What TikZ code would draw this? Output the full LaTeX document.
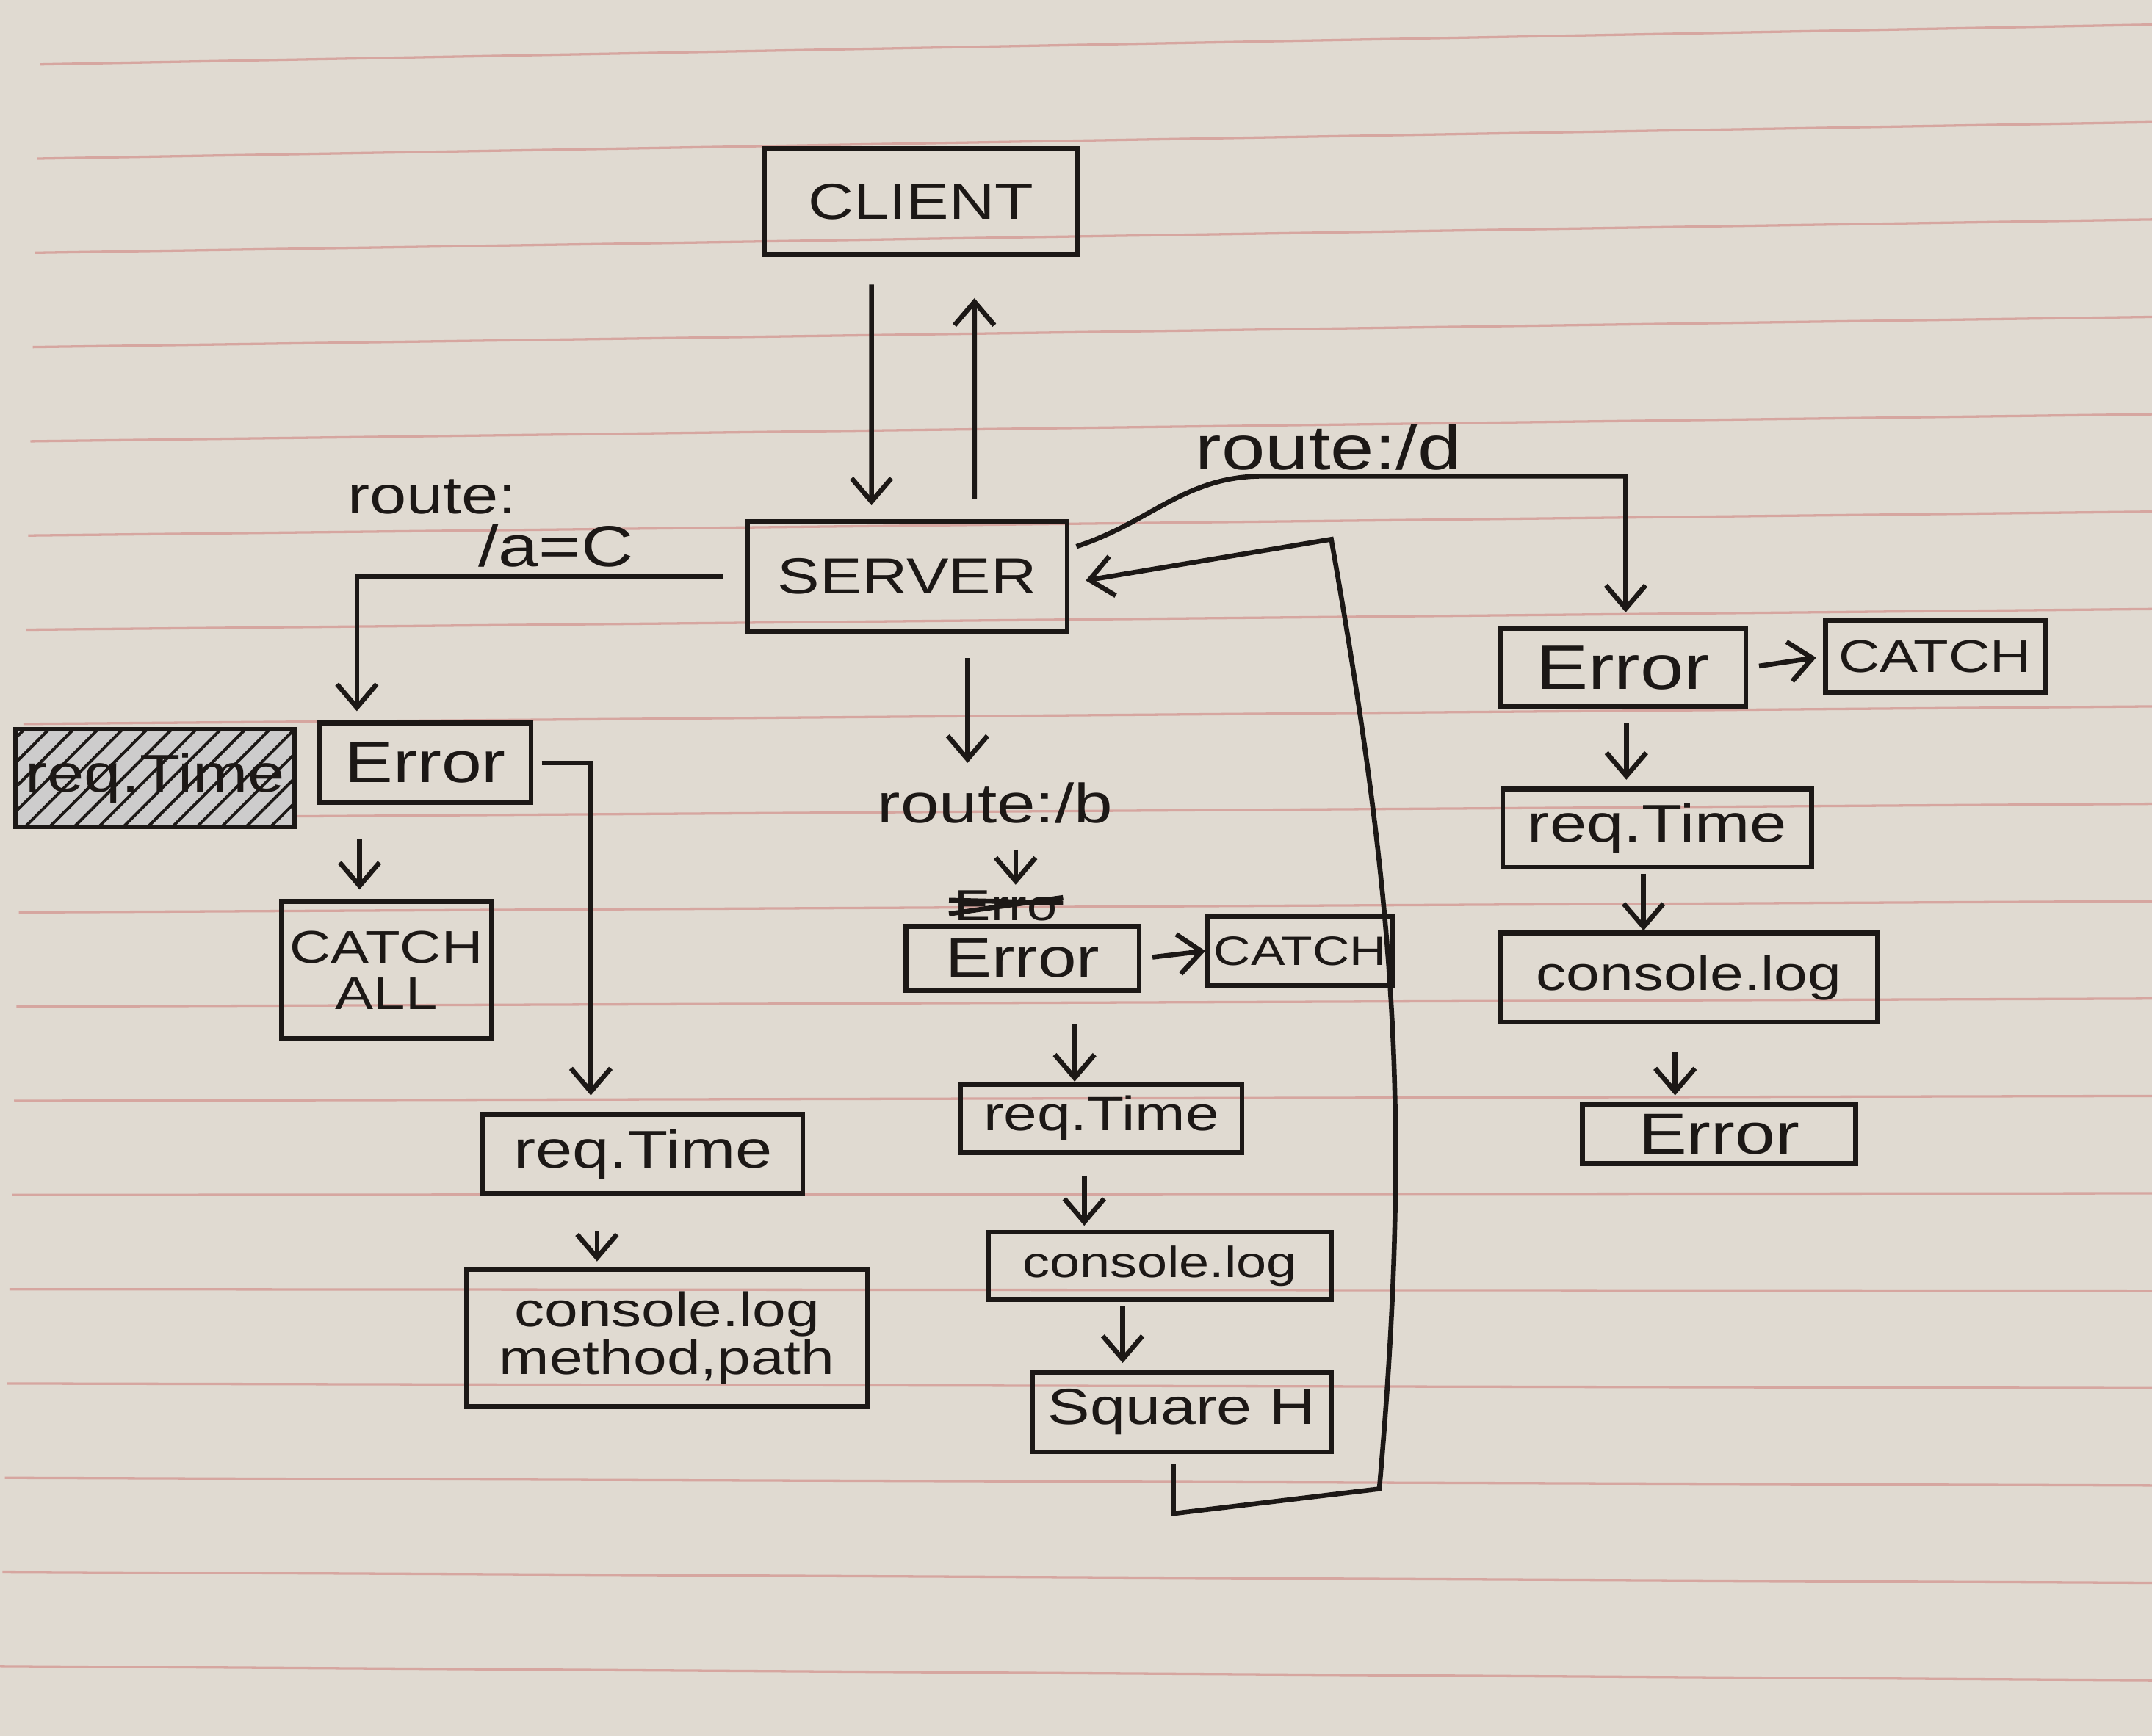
\documentclass[tikz,border=0pt]{standalone}
\usepackage{fontspec}
\setmainfont{Liberation Sans}[FakeStretch=1.25]
\usepackage{tikz}
\usetikzlibrary{arrows.meta, positioning, patterns.meta, calc}
\definecolor{Ink}{RGB}{28,24,22}
\definecolor{Paper}{RGB}{224,218,209}
\definecolor{RulePink}{RGB}{214,166,160}
\newcommand{\fsz}[1]{\fontsize{#1}{#1}\selectfont}

\begin{document}
\begin{tikzpicture}[
  font=\fsz{11},
  box/.style={rectangle, draw=Ink, line width=1pt, inner sep=0pt,
              align=center, text=Ink},
  lbl/.style={text=Ink, inner sep=1pt},
  arrow/.style={-{Straight Barb[length=1.7mm, width=2.9mm]}, Ink, line width=1pt},
  link/.style={Ink, line width=1pt},
]

% Paper
\fill[Paper] (0,0) rectangle (15.68,-12.65);
\useasboundingbox (0,0) rectangle (15.68,-12.65);
\foreach \k in {0,...,17}
  \draw[RulePink, line width=0.5pt] ({0.29-0.017*\k},{-0.4695-0.6866*\k}) -- (15.68,{-0.18-0.7097*\k});

% Client and server
\node[box, minimum width=2.28cm, minimum height=0.77cm, font=\fsz{10.5}] (client) at (6.71,-1.47) {CLIENT};
\node[box, minimum width=2.33cm, minimum height=0.80cm, font=\fsz{10.5}] (server) at (6.61,-4.20) {SERVER};

\draw[arrow, shorten <=2mm, shorten >=1mm] ([xshift=-3.6mm]client.south) -- ([xshift=-2.6mm]server.north);
\draw[arrow, shorten <=1.5mm, shorten >=3mm] ([xshift=4.9mm]server.north) -- ([xshift=3.9mm]client.south);

% Route /a=C
\node[lbl, font=\fsz{11}] (routeA) at (3.15,-3.62) {route:};
\node[lbl, font=\fsz{12}] (routeAval) at (4.05,-3.98) {/a=C};
\node[box, minimum width=1.54cm, minimum height=0.58cm, font=\fsz{12}] (errA) at (3.10,-5.56) {Error};
\node[box, minimum width=2.03cm, minimum height=0.71cm, font=\fsz{11},
      preaction={fill=Ink!22},
      pattern={Lines[angle=45, distance=3.6pt, line width=0.6pt]}, pattern color=Ink]
      (reqX) at (1.13,-5.67) {req.Time};
\node[box, minimum width=1.53cm, minimum height=1.00cm, font=\fsz{9.5}] (catchAll) at (2.815,-7.07) {CATCH\\[0pt]ALL};
\node[box, minimum width=2.33cm, minimum height=0.58cm, font=\fsz{11}] (reqA) at (4.685,-8.41) {req.Time};
\node[box, minimum width=2.92cm, minimum height=1.00cm, font=\fsz{10}] (logA) at (4.86,-9.75) {console.log\\[0pt]method,path};

\draw[arrow, shorten <=1.6mm, shorten >=0.7mm] (server.west) -| ([xshift=-5mm]errA.north);
\draw[arrow, shorten <=2.5mm, shorten >=0.7mm] ([xshift=-4.8mm]errA.south) -- ([xshift=-4.8mm]errA.south |- catchAll.north);
\draw[arrow, shorten <=0.6mm, shorten >=1.2mm] (errA.east) -| ([xshift=-3.8mm]reqA.north);
\draw[arrow, shorten <=2.5mm, shorten >=0.4mm] ([xshift=-3.35mm]reqA.south) -- ([xshift=-3.35mm]reqA.south |- logA.north);

% Route /b
\node[lbl, font=\fsz{11.5}] (routeB) at (7.25,-5.85) {route:/b};
\node[lbl, font=\fsz{9}] (scrib) at (7.33,-6.60) {Erro};
\draw[link] ([yshift=0.4mm]scrib.west) -- ([yshift=0.2mm]scrib.east);
\draw[link] ([yshift=-0.6mm]scrib.west) -- ([yshift=0.6mm]scrib.east);
\node[box, minimum width=1.70cm, minimum height=0.47cm, font=\fsz{11.5}] (errB) at (7.45,-6.985) {Error};
\node[box, minimum width=1.35cm, minimum height=0.50cm, font=\fsz{8.5}] (catchB) at (9.475,-6.93) {CATCH};
\node[box, minimum width=2.05cm, minimum height=0.50cm, font=\fsz{10}] (reqB) at (8.025,-8.15) {req.Time};
\node[box, minimum width=2.50cm, minimum height=0.49cm, font=\fsz{9}] (logB) at (8.45,-9.225) {console.log};
\node[box, minimum width=2.18cm, minimum height=0.58cm, font=\fsz{10.5}] (sqB) at (8.61,-10.29) {Square H};

\draw[arrow, shorten <=1.8mm, shorten >=1mm] ([xshift=4.4mm]server.south) -- ([xshift=4.4mm]server.south |- routeB.north);
\draw[arrow, shorten <=1.5mm] ([xshift=1.5mm]routeB.south) -- ([xshift=1.5mm]routeB.south |- scrib.north);
\draw[arrow, shorten <=0.8mm] (errB.east) -- (catchB.west);
\draw[arrow, shorten <=2.3mm] ([xshift=3.8mm]errB.south) -- ([xshift=3.8mm]errB.south |- reqB.north);
\draw[arrow, shorten <=1.5mm, shorten >=0.3mm] ([xshift=-1.25mm]reqB.south) -- ([xshift=-1.25mm]reqB.south |- logB.north);
\draw[arrow, shorten <=0.3mm, shorten >=0.5mm] ([xshift=-2.7mm]logB.south) -- ([xshift=-2.7mm]logB.south |- sqB.north);

% Loop back to server
\coordinate (loopBL) at (8.55,-11.03);
\coordinate (loopBR) at (10.05,-10.85);
\coordinate (loopTR) at (9.70,-3.93);
\draw[arrow, shorten <=0.7mm, shorten >=1.2mm] ([xshift=-0.6mm]sqB.south) -- (loopBL) -- (loopBR)
  to[out=85, in=-80] (loopTR) -- ([yshift=-0.5mm]server.east);

% Route /d
\node[lbl, font=\fsz{13}] (routeD) at (9.68,-3.26) {route:/d};
\coordinate (dBend) at (9.2,-3.47);
\node[box, minimum width=1.79cm, minimum height=0.57cm, font=\fsz{13}] (errD) at (11.825,-4.865) {Error};
\node[box, minimum width=1.60cm, minimum height=0.53cm, font=\fsz{9.5}] (catchD) at (14.10,-4.785) {CATCH};
\node[box, minimum width=2.25cm, minimum height=0.57cm, font=\fsz{11}] (reqD) at (12.075,-6.035) {req.Time};
\node[box, minimum width=2.75cm, minimum height=0.65cm, font=\fsz{10}] (logD) at (12.305,-7.125) {console.log};
\node[box, minimum width=1.99cm, minimum height=0.43cm, font=\fsz{12}] (errD2) at (12.525,-8.265) {Error};

\draw[arrow, shorten >=1mm] ([xshift=0.5mm,yshift=-2mm]server.north east) to[out=18, in=180] (dBend)
  -| ([xshift=0.2mm]errD.north);
\draw[arrow, shorten <=0.8mm, shorten >=0.5mm] (errD.east) -- (catchD.west);
\draw[arrow, shorten <=1mm, shorten >=0.5mm] ([xshift=0.25mm]errD.south) -- ([xshift=0.25mm]errD.south |- reqD.north);
\draw[arrow, shorten <=0.3mm] ([xshift=-1mm]reqD.south) -- ([xshift=-1mm]reqD.south |- logD.north);
\draw[arrow, shorten <=2mm, shorten >=0.5mm] ([xshift=-1mm]logD.south) -- ([xshift=-1mm]logD.south |- errD2.north);

\end{tikzpicture}
\end{document}
